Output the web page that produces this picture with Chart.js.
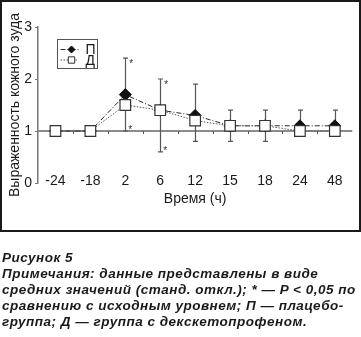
<!DOCTYPE html>
<html>
<head>
<meta charset="utf-8">
<script src="https://cdn.jsdelivr.net/npm/chart.js@4.4.0/dist/chart.umd.min.js"></script>
<style>
body { margin: 0; background: #fff; }
#wrap { position: relative; width: 361px; height: 337px; overflow: hidden; }
#chart { position: absolute; left: 0; top: 0; }
#frame { position: absolute; left: 0; top: 0; width: 361px; height: 232px; border: 2px solid #1a1a1a; box-sizing: border-box; pointer-events: none; }
#caption { position: absolute; left: 2px; top: 250px; font: bold italic 13.5px "Liberation Sans", Arial, sans-serif; letter-spacing: 0.5px; line-height: 16px; color: #1a1a1a; white-space: nowrap; }
</style>
</head>
<body>
<div id="wrap">
  <canvas id="chart" width="361" height="232"></canvas>
  <div id="frame"></div>
  <div id="caption">
    Рисунок 5<br>
    Примечания: данные представлены в виде<br>
    средних значений (станд. откл.); * — P &lt; 0,05 по<br>
    сравнению с исходным уровнем; П — плацебо-<br>
    группа; Д — группа с декскетопрофеном.
  </div>
</div>
<script>
// data
const categories = ['-24', '-18', '2', '6', '12', '15', '18', '24', '48'];
const placebo = [1.0, 1.0, 1.7, 1.4, 1.3, 1.1, 1.1, 1.1, 1.1];
const dexketo = [1.0, 1.0, 1.5, 1.4, 1.2, 1.1, 1.1, 1.0, 1.0];
const placeboUpper = [null, null, 2.4, 2.0, 1.9, 1.4, 1.4, 1.4, 1.4];
const dexketoLower = [null, null, 1.0, 0.6, 0.8, 0.8, 0.8, null, null];
const starIndexes = [2, 3];
const yTicks = [0, 1, 2, 3];

const FONT = '"Liberation Sans", Arial, sans-serif';
const INK = '#1a1a1a';

// grey line at y = 1 with small ticks between categories
const baselinePlugin = {
    id: 'baseline',
    beforeDatasetsDraw(chart) {
        const { ctx, chartArea, scales: { x, y } } = chart;
        const py = y.getPixelForValue(1);
        ctx.save();
        ctx.strokeStyle = '#8c8c8c';
        ctx.lineWidth = 2;
        ctx.beginPath();
        ctx.moveTo(chartArea.left, py);
        ctx.lineTo(chartArea.right, py);
        ctx.stroke();
        ctx.lineWidth = 1;
        ctx.strokeStyle = '#555';
        ctx.beginPath();
        for (let i = 1; i < categories.length; i++) {
            const bx = Math.round((x.getPixelForValue(i - 1) + x.getPixelForValue(i)) / 2) + 0.5;
            ctx.moveTo(bx, py);
            ctx.lineTo(bx, py + 3);
        }
        ctx.stroke();
        ctx.restore();
    }
};

// standard deviation whiskers + significance stars
const errorPlugin = {
    id: 'errors',
    beforeDatasetsDraw(chart) {
        const { ctx, scales: { x, y } } = chart;
        ctx.save();
        ctx.strokeStyle = '#555';
        ctx.lineWidth = 1.2;

        function whisker(px, from, to) {
            const y0 = y.getPixelForValue(from);
            const y1 = y.getPixelForValue(to);
            ctx.beginPath();
            ctx.moveTo(px, y0);
            ctx.lineTo(px, y1);
            ctx.moveTo(px - 2.5, y1);
            ctx.lineTo(px + 2.5, y1);
            ctx.stroke();
        }

        categories.forEach((c, i) => {
            const px = Math.round(x.getPixelForValue(i)) + 0.5;
            if (placeboUpper[i] != null) whisker(px, placebo[i], placeboUpper[i]);
            if (dexketoLower[i] != null) whisker(px, dexketo[i], dexketoLower[i]);
        });

        ctx.fillStyle = '#333';
        ctx.font = '10px ' + FONT;
        ctx.textAlign = 'center';
        ctx.textBaseline = 'alphabetic';
        starIndexes.forEach(i => {
            const px = x.getPixelForValue(i);
            ctx.fillText('*', px + 6, y.getPixelForValue(placeboUpper[i]) + 8.5);
            ctx.fillText('*', px + 5, y.getPixelForValue(dexketoLower[i]) + 2);
        });
        ctx.restore();
    }
};

function drawMarker(ctx, style, cx, cy, r, fill, stroke) {
    ctx.beginPath();
    if (style === 'rectRot') {
        ctx.moveTo(cx, cy - r);
        ctx.lineTo(cx + r, cy);
        ctx.lineTo(cx, cy + r);
        ctx.lineTo(cx - r, cy);
    } else {
        const s = r * Math.SQRT1_2;
        ctx.rect(cx - s, cy - s, 2 * s, 2 * s);
    }
    ctx.closePath();
    ctx.fillStyle = fill;
    ctx.fill();
    ctx.strokeStyle = stroke;
    ctx.lineWidth = 1;
    ctx.stroke();
}

// boxed legend inside the plot, line sample + marker + label
const boxLegendPlugin = {
    id: 'boxLegend',
    afterDraw(chart) {
        const { ctx, chartArea } = chart;
        const left = chartArea.left + 19.5;
        const top = chartArea.top + 12.5;
        ctx.save();
        ctx.strokeStyle = '#555';
        ctx.lineWidth = 1;
        ctx.strokeRect(left, top, 40, 29);
        chart.data.datasets.forEach((ds, k) => {
            const ry = top + 10 + k * 10.5;
            ctx.setLineDash(ds.borderDash);
            ctx.strokeStyle = ds.borderColor;
            ctx.lineWidth = 1;
            ctx.beginPath();
            ctx.moveTo(left + 3, ry);
            ctx.lineTo(left + 21, ry);
            ctx.stroke();
            ctx.setLineDash([]);
            drawMarker(ctx, ds.pointStyle, left + 14, ry, ds.pointStyle === 'rectRot' ? 3.5 : 4.5,
                ds.pointBackgroundColor, ds.pointBorderColor);
            ctx.fillStyle = INK;
            ctx.font = '14px ' + FONT;
            ctx.textAlign = 'left';
            ctx.textBaseline = 'middle';
            ctx.fillText(ds.label, left + 28, ry + 1);
        });
        ctx.restore();
    }
};

new Chart(document.getElementById('chart'), {
    type: 'line',
    data: {
        labels: categories,
        datasets: [
            {
                label: 'П',
                data: placebo,
                borderColor: '#2a2a2a',
                borderWidth: 1,
                borderDash: [5, 2, 1, 2],
                pointStyle: 'rectRot',
                pointRadius: 6,
                pointBackgroundColor: '#111',
                pointBorderColor: '#111',
                pointBorderWidth: 1,
                order: 2
            },
            {
                label: 'Д',
                data: dexketo,
                borderColor: '#555',
                borderWidth: 1,
                borderDash: [1.5, 1.5],
                pointStyle: 'rect',
                pointRadius: 7.5,
                pointBackgroundColor: '#fff',
                pointBorderColor: '#333',
                pointBorderWidth: 1.2,
                order: 1
            }
        ]
    },
    options: {
        responsive: false,
        animation: false,
        layout: { padding: { left: 0, right: 1, top: 27, bottom: 0 } },
        plugins: { legend: { display: false }, tooltip: { enabled: false } },
        scales: {
            x: {
                offset: true,
                border: { display: false },
                grid: { display: false, drawTicks: false },
                ticks: { mirror: true, padding: -7, color: INK, font: { size: 14, family: FONT }, maxRotation: 0, autoSkip: false },
                title: { display: true, text: 'Время (ч)', color: INK, font: { size: 14, family: FONT }, padding: { top: 0, bottom: 24 } },
                afterFit(s) { s.height = 49; }
            },
            y: {
                min: 0,
                max: 3,
                border: { color: '#777', width: 1.5 },
                grid: { drawOnChartArea: false, drawTicks: true, tickLength: 3, color: '#777' },
                ticks: { padding: 3, color: INK, font: { size: 14, family: FONT } },
                afterBuildTicks(s) { s.ticks = yTicks.map(v => ({ value: v })); },
                title: { display: true, text: 'Выраженность кожного зуда', color: INK, font: { size: 14, family: FONT }, padding: { top: 7, bottom: 0 } },
                afterFit(s) { s.width = 38; }
            }
        }
    },
    plugins: [baselinePlugin, errorPlugin, boxLegendPlugin]
});
</script>
</body>
</html>
